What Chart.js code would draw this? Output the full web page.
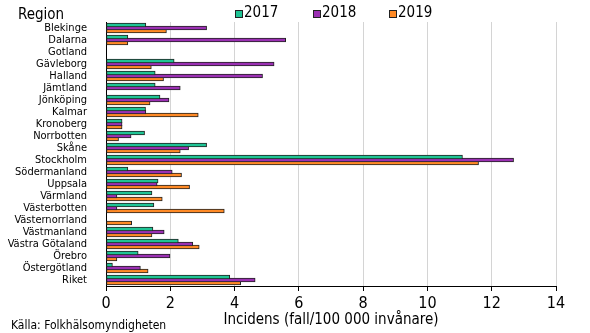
<!DOCTYPE html>
<html>
<head>
<meta charset="utf-8">
<script src="https://cdn.jsdelivr.net/npm/chart.js@4.4.1/dist/chart.umd.min.js"></script>
<style>
  html, body { margin: 0; padding: 0; background: #fff; }
  #wrap { width: 590px; height: 333px; }
</style>
</head>
<body>
<div id="wrap"><canvas id="incidensChart" width="590" height="333"></canvas></div>
<script>
// Regions, top to bottom
const regions = [
    'Blekinge', 'Dalarna', 'Gotland', 'Gävleborg', 'Halland', 'Jämtland',
    'Jönköping', 'Kalmar', 'Kronoberg', 'Norrbotten', 'Skåne', 'Stockholm',
    'Södermanland', 'Uppsala', 'Värmland', 'Västerbotten', 'Västernorrland',
    'Västmanland', 'Västra Götaland', 'Örebro', 'Östergötland', 'Riket'
];
const years = ['2017', '2018', '2019'];

// Incidence per 100 000 inhabitants (null = no cases)
const incidens2017 = [1.24, 0.68, null, 2.12, 1.53, 1.53, 1.68, 1.23, 0.50, 1.20, 3.13, 11.09,
    0.68, 1.62, 1.43, 1.49, null, 1.46, 2.25, 1.00, 0.20, 3.85];
const incidens2018 = [3.13, 5.59, null, 5.23, 4.87, 2.31, 1.96, 1.24, 0.50, 0.78, 2.57, 12.68,
    2.06, 1.59, 0.34, 0.34, null, 1.81, 2.70, 1.99, 1.07, 4.64];
const incidens2019 = [1.88, 0.68, null, 1.41, 1.79, null, 1.37, 2.87, 0.50, 0.39, 2.31, 11.59,
    2.35, 2.60, 1.75, 3.68, 0.80, 1.43, 2.90, 0.34, 1.31, 4.19];

const xTicks = [0, 2, 4, 6, 8, 10, 12, 14];

const colors = ['#1fc495', '#9b30b3', '#ff8a26'];
const FONT = '"DejaVu Sans Condensed", "DejaVu Sans", sans-serif';

// Extra text: axis heading, legend row and source line
const extraText = {
    id: 'extraText',
    afterDraw(chart) {
        const ctx = chart.ctx;
        ctx.save();
        ctx.fillStyle = '#000';
        ctx.textBaseline = 'middle';

        ctx.font = '15px ' + FONT;
        ctx.textAlign = 'left';
        ctx.fillText('Region', 18, 15);

        const legendX = [235, 313, 389];
        chart.data.datasets.forEach((ds, i) => {
            ctx.fillStyle = ds.backgroundColor;
            ctx.fillRect(legendX[i], 10, 8, 8);
            ctx.strokeStyle = '#222';
            ctx.lineWidth = 1;
            ctx.strokeRect(legendX[i] + 0.5, 10.5, 7, 7);
            ctx.fillStyle = '#000';
            ctx.font = '15px ' + FONT;
            ctx.fillText(ds.label, legendX[i] + 9, 13);
        });

        ctx.font = '12px ' + FONT;
        ctx.fillText('Källa: Folkhälsomyndigheten', 11, 326);
        ctx.restore();
    }
};

// 12 px per region: bars 4 px tall, sharing their 1 px outline
const datasets = [incidens2017, incidens2018, incidens2019].map((values, i) => ({
    label: years[i],
    data: values,
    backgroundColor: colors[i],
    borderColor: '#222',
    borderWidth: 1,
    borderSkipped: false,
    categoryPercentage: 0.75,
    barPercentage: 4 / 3
}));

new Chart(document.getElementById('incidensChart'), {
    type: 'bar',
    data: { labels: regions, datasets: datasets },
    options: {
        indexAxis: 'y',
        responsive: false,
        animation: false,
        layout: { padding: { top: 22, right: 34, bottom: 0, left: 0 } },
        plugins: {
            legend: { display: false },
            tooltip: { enabled: false }
        },
        scales: {
            x: {
                min: 0,
                max: 14,
                afterBuildTicks: axis => { axis.ticks = xTicks.map(v => ({ value: v })); },
                afterFit: axis => { axis.height = 47; },
                grid: { color: '#d4d4d4', tickColor: '#000', tickLength: 5 },
                border: { color: '#000', width: 1 },
                ticks: { color: '#000', padding: 3, font: { family: FONT, size: 16 } },
                title: {
                    display: true,
                    text: 'Incidens (fall/100 000 invånare)',
                    color: '#000',
                    font: { family: FONT, size: 15 },
                    padding: { top: 0, bottom: 4 }
                }
            },
            y: {
                afterFit: axis => { axis.width = 106; },
                grid: { display: false },
                border: { color: '#000', width: 1 },
                ticks: {
                    color: '#000',
                    padding: 11,
                    autoSkip: false,
                    font: { family: FONT, size: 11 }
                }
            }
        }
    },
    plugins: [extraText]
});
</script>
</body>
</html>
